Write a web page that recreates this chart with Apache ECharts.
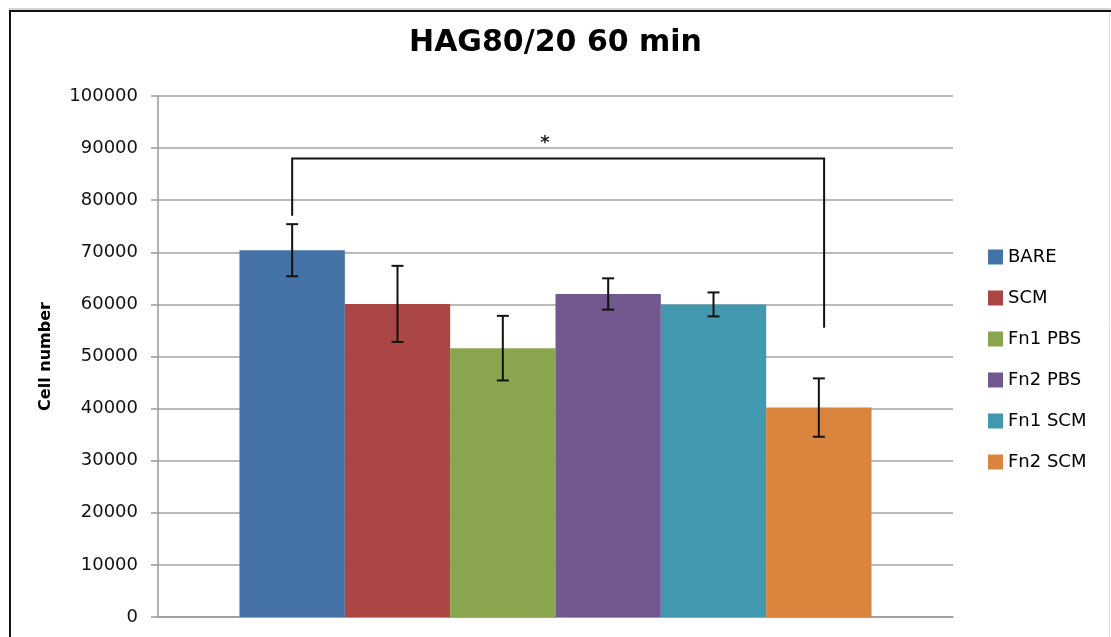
<!DOCTYPE html>
<html>
<head>
<meta charset="utf-8">
<script src="https://cdn.jsdelivr.net/npm/echarts@6/dist/echarts.min.js"></script>
<style>html,body{margin:0;padding:0;background:#fff;}#c{width:1111px;height:637px;}</style>
</head>
<body>
<div id="c"></div>
<script>
const titleText = 'HAG80/20 60 min';
const yAxisName = 'Cell number';
const groups = ['BARE', 'SCM', 'Fn1 PBS', 'Fn2 PBS', 'Fn1 SCM', 'Fn2 SCM'];
const means = [70400, 60100, 51600, 62000, 60000, 40200];
const errors = [5000, 7300, 6200, 3000, 2300, 5600];
const colors = ['#4572A7', '#AA4643', '#89A54E', '#71588F', '#4198AF', '#DB843D'];
const yTicks = { min: 0, max: 100000, interval: 10000 };
// significance bracket: from group 0 to group 5
const bracketFrom = 0, bracketTo = 5.05;
const bracketLeftBottom = 77000, bracketTop = 88000, bracketRightBottom = 55500;
const starLabel = '*', starValue = 91000, starPos = 2.4;

const CAT_GAP = 0.205;
const N = groups.length;
function barCenter(api, i) {
  const c = api.coord([0, 0])[0];
  const band = api.size([1, 0])[0];
  const gw = band * (1 - CAT_GAP);
  const bw = gw / N;
  return c - gw / 2 + (i + 0.5) * bw;
}

const chart = echarts.init(document.getElementById('c'), null, { renderer: 'canvas' });
const series = groups.map((g, i) => ({
  name: g,
  type: 'bar',
  data: [means[i]],
  barGap: '0%',
  barCategoryGap: (CAT_GAP * 100) + '%',
  itemStyle: { color: colors[i] },
  z: 2
}));
series.push({
  type: 'custom',
  name: 'err',
  data: groups.map((g, i) => [0, means[i] - errors[i], means[i] + errors[i], i]),
  encode: { x: 0, y: [1, 2] },
  z: 5,
  renderItem: function (params, api) {
    const i = api.value(3);
    const x = barCenter(api, i);
    const yl = api.coord([0, api.value(1)])[1];
    const yh = api.coord([0, api.value(2)])[1];
    const cap = 6;
    const st = { stroke: '#111', lineWidth: 2 };
    return { type: 'group', children: [
      { type: 'line', shape: { x1: x, y1: yl, x2: x, y2: yh }, style: st },
      { type: 'line', shape: { x1: x - cap, y1: yl, x2: x + cap, y2: yl }, style: st },
      { type: 'line', shape: { x1: x - cap, y1: yh, x2: x + cap, y2: yh }, style: st }
    ]};
  }
});
series.push({
  type: 'custom',
  name: 'bracket',
  data: [[0, bracketLeftBottom, bracketTop, bracketRightBottom, starValue]],
  encode: { x: 0, y: [1, 2, 3, 4] },
  z: 6,
  renderItem: function (params, api) {
    const xl = barCenter(api, bracketFrom);
    const xr = barCenter(api, bracketTo);
    const yLB = api.coord([0, api.value(1)])[1];
    const yT = api.coord([0, api.value(2)])[1];
    const yRB = api.coord([0, api.value(3)])[1];
    const yS = api.coord([0, api.value(4)])[1];
    const xs = barCenter(api, starPos);
    return { type: 'group', children: [
      { type: 'polyline', shape: { points: [[xl, yLB], [xl, yT], [xr, yT], [xr, yRB]] },
        style: { stroke: '#111', lineWidth: 2, fill: null } },
      { type: 'text', style: { text: starLabel, x: xs, y: yS, align: 'center', verticalAlign: 'middle',
        font: 'bold 18px "DejaVu Sans"', fill: '#222' } }
    ]};
  }
});

chart.setOption({
  animation: false,
  backgroundColor: '#fff',
  title: {
    text: titleText, left: 'center', top: 23,
    textStyle: { fontFamily: 'DejaVu Sans', fontWeight: 'bold', fontSize: 30, color: '#000' }
  },
  legend: {
    orient: 'vertical', left: 983, top: 243,
    data: groups,
    itemWidth: 15, itemHeight: 15, itemGap: 23, icon: 'rect',
    textStyle: { fontFamily: 'DejaVu Sans', fontSize: 18, color: '#000', lineHeight: 18 }
  },
  grid: { left: 158, right: 158, top: 96, bottom: 20, containLabel: false },
  xAxis: {
    type: 'category', data: [''],
    axisLine: { lineStyle: { color: '#999', width: 1.5 } },
    axisTick: { show: false }, axisLabel: { show: false }
  },
  yAxis: {
    type: 'value', min: yTicks.min, max: yTicks.max, interval: yTicks.interval,
    name: yAxisName, nameLocation: 'middle', nameGap: 104, nameRotate: 90,
    nameTextStyle: { fontFamily: 'DejaVu Sans', fontWeight: 'bold', fontSize: 16, color: '#000' },
    axisLine: { show: true, lineStyle: { color: '#999', width: 1.5 } },
    axisTick: { show: true, length: 7, lineStyle: { color: '#999', width: 1.5 } },
    axisLabel: { margin: 20, fontFamily: 'DejaVu Sans', fontSize: 18, color: '#111',
      formatter: function (v) { return String(v); } },
    splitLine: { lineStyle: { color: '#a3a3a3', width: 1.5 } }
  },
  graphic: [
    { type: 'line', shape: { x1: 9, y1: 11, x2: 1111, y2: 11 }, style: { stroke: '#111', lineWidth: 2 } },
    { type: 'line', shape: { x1: 9, y1: 9, x2: 1111, y2: 9 }, style: { stroke: '#aaa', lineWidth: 1 } },
    { type: 'line', shape: { x1: 10, y1: 10, x2: 10, y2: 637 }, style: { stroke: '#111', lineWidth: 2 } },
    { type: 'line', shape: { x1: 1109.5, y1: 12, x2: 1109.5, y2: 637 }, style: { stroke: '#ddd', lineWidth: 1 } }
  ],
  series: series
});
</script>
</body>
</html>
